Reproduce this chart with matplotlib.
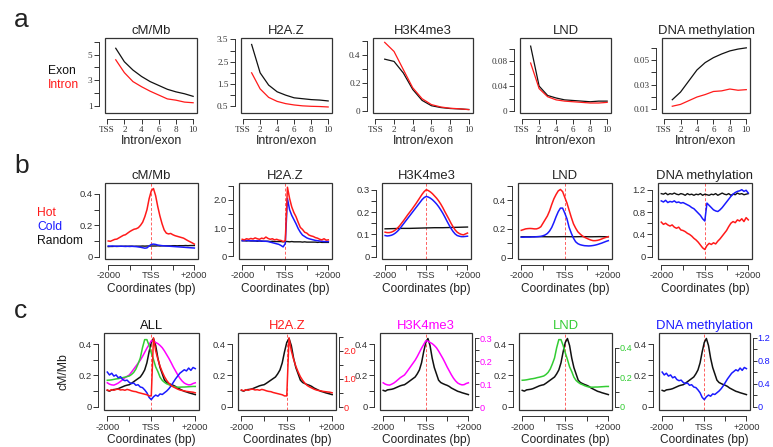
import numpy as np
import matplotlib.pyplot as plt
from matplotlib.patches import Rectangle

plt.rcParams['font.family'] = ['Liberation Sans', 'DejaVu Sans']

RED = '#ff1a1a'
BLUE = '#1a1aff'
GREEN = '#33cc33'
MAG = '#ff00ff'
BLK = '#111111'

# ---------------- a : profile along intron/exon number ----------------
exon_no = [1, 2, 3, 4, 5, 6, 7, 8, 9, 10]
exon_cm = [5.5, 4.45, 3.8, 3.3, 2.9, 2.6, 2.3, 2.1, 1.95, 1.75]
intron_cm = [4.6, 3.6, 2.9, 2.5, 2.15, 1.85, 1.55, 1.45, 1.3, 1.25]
exon_h2az = [3.27, 2.0, 1.45, 1.15, 1.0, 0.88, 0.84, 0.8, 0.78, 0.74]
intron_h2az = [2.0, 1.28, 0.9, 0.72, 0.62, 0.56, 0.52, 0.5, 0.49, 0.47]
exon_h3k4 = [0.369, 0.353, 0.27, 0.153, 0.075, 0.037, 0.024, 0.017, 0.014, 0.01]
intron_h3k4 = [0.489, 0.424, 0.294, 0.165, 0.087, 0.045, 0.028, 0.019, 0.015, 0.009]
exon_lnd = [0.104, 0.04, 0.025, 0.021, 0.018, 0.017, 0.016, 0.015, 0.016, 0.016]
intron_lnd = [0.077, 0.036, 0.023, 0.018, 0.016, 0.015, 0.014, 0.013, 0.013, 0.014]
exon_meth = [0.0178, 0.024, 0.033, 0.042, 0.048, 0.052, 0.055, 0.0575, 0.059, 0.060]
intron_meth = [0.0125, 0.014, 0.017, 0.020, 0.022, 0.0245, 0.025, 0.0265, 0.0255, 0.026]

# ---------------- b : hot / cold / random around TSS (-2000..+2000 bp) ----------------
b_cm_hot = [0.100, 0.098, 0.104, 0.110, 0.112, 0.120, 0.128, 0.136, 0.140, 0.150, 0.160,
            0.168, 0.175, 0.178, 0.185, 0.200, 0.220, 0.255, 0.300, 0.370, 0.420,
            0.435, 0.390, 0.320, 0.260, 0.210, 0.170, 0.150, 0.145, 0.148, 0.140,
            0.134, 0.130, 0.126, 0.122, 0.118, 0.110, 0.102, 0.095, 0.088, 0.080]
b_cm_cold = [0.068, 0.067, 0.068, 0.066, 0.067, 0.066, 0.067, 0.066, 0.065, 0.066, 0.065,
             0.066, 0.065, 0.064, 0.062, 0.060, 0.057, 0.054, 0.056, 0.068, 0.078,
             0.080, 0.078, 0.074, 0.072, 0.070, 0.069, 0.068, 0.067, 0.066, 0.065,
             0.064, 0.063, 0.062, 0.061, 0.060, 0.059, 0.058, 0.057, 0.056, 0.055]
b_cm_rand = [0.064, 0.065, 0.065, 0.066, 0.065, 0.066, 0.066, 0.066, 0.067, 0.066, 0.067,
             0.067, 0.066, 0.067, 0.067, 0.067, 0.068, 0.067, 0.068, 0.068, 0.068,
             0.068, 0.068, 0.069, 0.068, 0.069, 0.069, 0.069, 0.069, 0.069, 0.070,
             0.070, 0.069, 0.070, 0.070, 0.070, 0.071, 0.070, 0.071, 0.071, 0.071]

b_h2az_hot = [0.60, 0.58, 0.62, 0.60, 0.63, 0.61, 0.65, 0.62, 0.60, 0.64, 0.62,
              0.68, 0.63, 0.60, 0.62, 0.58, 0.60, 0.57, 0.56, 0.52, 0.55,
              2.45, 2.05, 1.75, 1.55, 1.40, 1.20, 1.02, 0.95, 0.85, 0.82,
              0.75, 0.72, 0.70, 0.66, 0.64, 0.60, 0.58, 0.62, 0.57, 0.58]
b_h2az_cold = [0.55, 0.55, 0.56, 0.55, 0.55, 0.55, 0.54, 0.55, 0.54, 0.54, 0.53,
               0.53, 0.52, 0.50, 0.48, 0.46, 0.44, 0.42, 0.38, 0.33, 0.45,
               2.05, 1.65, 1.45, 1.30, 1.15, 0.98, 0.85, 0.75, 0.70, 0.65,
               0.62, 0.60, 0.58, 0.56, 0.55, 0.54, 0.53, 0.52, 0.52, 0.52]
b_h2az_rand = [0.55, 0.55, 0.54, 0.55, 0.54, 0.54, 0.54, 0.53, 0.54, 0.53, 0.53,
               0.53, 0.53, 0.52, 0.53, 0.52, 0.52, 0.52, 0.52, 0.51, 0.52,
               0.52, 0.51, 0.52, 0.51, 0.51, 0.51, 0.51, 0.50, 0.51, 0.50,
               0.50, 0.50, 0.50, 0.50, 0.49, 0.50, 0.49, 0.49, 0.49, 0.49]

b_h3k4_hot = [0.110, 0.108, 0.108, 0.110, 0.114, 0.120, 0.128, 0.138, 0.150, 0.162, 0.175,
              0.188, 0.200, 0.212, 0.225, 0.238, 0.252, 0.266, 0.280, 0.292, 0.300,
              0.296, 0.290, 0.282, 0.272, 0.262, 0.250, 0.236, 0.220, 0.202, 0.185,
              0.168, 0.150, 0.134, 0.120, 0.110, 0.104, 0.100, 0.098, 0.102, 0.106]
b_h3k4_cold = [0.095, 0.093, 0.094, 0.096, 0.100, 0.106, 0.114, 0.124, 0.136, 0.148, 0.160,
               0.172, 0.184, 0.196, 0.208, 0.220, 0.232, 0.244, 0.256, 0.265, 0.270,
               0.267, 0.262, 0.255, 0.246, 0.236, 0.224, 0.210, 0.195, 0.178, 0.160,
               0.143, 0.127, 0.113, 0.102, 0.095, 0.092, 0.090, 0.090, 0.091, 0.092]
b_h3k4_rand = [0.125, 0.126, 0.127, 0.127, 0.128, 0.129, 0.130, 0.130, 0.131, 0.132, 0.133]

b_lnd_hot = [0.190, 0.195, 0.200, 0.202, 0.203, 0.202, 0.200, 0.200, 0.205, 0.215, 0.240,
             0.265, 0.290, 0.325, 0.370, 0.410, 0.440, 0.465, 0.475, 0.460, 0.420,
             0.380, 0.330, 0.280, 0.235, 0.205, 0.180, 0.165, 0.152, 0.142, 0.135,
             0.128, 0.122, 0.118, 0.118, 0.120, 0.124, 0.130, 0.136, 0.141, 0.146]
b_lnd_cold = [0.142, 0.142, 0.143, 0.143, 0.143, 0.144, 0.144, 0.145, 0.146, 0.148, 0.152,
              0.158, 0.168, 0.185, 0.210, 0.245, 0.285, 0.320, 0.345, 0.345, 0.310,
              0.270, 0.210, 0.170, 0.135, 0.110, 0.097, 0.090, 0.086, 0.083, 0.082,
              0.081, 0.082, 0.084, 0.087, 0.091, 0.096, 0.101, 0.107, 0.113, 0.118]
b_lnd_rand = [0.145, 0.145, 0.146, 0.145, 0.145, 0.146, 0.145, 0.146, 0.145, 0.146, 0.145]

b_meth_hot = [0.62, 0.58, 0.60, 0.57, 0.55, 0.57, 0.53, 0.51, 0.53, 0.48, 0.47,
              0.45, 0.42, 0.40, 0.37, 0.33, 0.30, 0.26, 0.21, 0.16, 0.13,
              0.20, 0.24, 0.22, 0.25, 0.23, 0.28, 0.32, 0.37, 0.42, 0.47,
              0.54, 0.60, 0.63, 0.61, 0.66, 0.64, 0.68, 0.63, 0.70, 0.66]
b_meth_cold = [1.00, 0.98, 1.01, 0.97, 0.99, 0.98, 1.00, 0.97, 0.98, 0.96, 0.97,
               0.95, 0.93, 0.91, 0.88, 0.86, 0.82, 0.78, 0.74, 0.68, 0.64,
               0.96, 0.92, 0.88, 0.84, 0.82, 0.81, 0.84, 0.88, 0.93, 0.98,
               1.03, 1.08, 1.12, 1.15, 1.17, 1.18, 1.20, 1.17, 1.19, 1.14]
b_meth_rand = [1.13, 1.12, 1.14, 1.11, 1.13, 1.12, 1.14, 1.12, 1.11, 1.13, 1.12,
               1.10, 1.13, 1.11, 1.12, 1.10, 1.12, 1.11, 1.13, 1.10, 1.12,
               1.11, 1.10, 1.12, 1.11, 1.13, 1.10, 1.12, 1.14, 1.12, 1.11,
               1.13, 1.10, 1.12, 1.11, 1.14, 1.12, 1.13, 1.11, 1.12, 1.13]

# ---------------- c : all genes, cM/Mb vs each mark ----------------
c_cm = [0.105, 0.100, 0.108, 0.110, 0.112, 0.116, 0.122, 0.128, 0.134, 0.138, 0.141,
        0.150, 0.160, 0.170, 0.180, 0.190, 0.210, 0.235, 0.280, 0.350, 0.410,
        0.435, 0.390, 0.310, 0.250, 0.210, 0.170, 0.155, 0.148, 0.142, 0.137,
        0.130, 0.120, 0.113, 0.106, 0.099, 0.095, 0.090, 0.086, 0.082, 0.078]
c_h2az = [0.61, 0.58, 0.62, 0.60, 0.63, 0.64, 0.61, 0.62, 0.60, 0.63, 0.61,
          0.58, 0.56, 0.55, 0.52, 0.50, 0.48, 0.46, 0.44, 0.40, 0.40,
          2.46, 2.00, 1.70, 1.45, 1.25, 1.08, 0.95, 0.85, 0.77, 0.72,
          0.68, 0.64, 0.61, 0.59, 0.58, 0.56, 0.55, 0.54, 0.53, 0.51]
c_h3k4 = [0.106, 0.100, 0.097, 0.096, 0.100, 0.105, 0.112, 0.120, 0.128, 0.134, 0.140,
          0.152, 0.165, 0.178, 0.191, 0.204, 0.220, 0.238, 0.256, 0.272, 0.288,
          0.287, 0.281, 0.276, 0.268, 0.258, 0.244, 0.228, 0.212, 0.194, 0.175,
          0.158, 0.141, 0.126, 0.114, 0.105, 0.100, 0.097, 0.098, 0.103, 0.106]
c_lnd = [0.179, 0.180, 0.182, 0.185, 0.188, 0.190, 0.193, 0.197, 0.200, 0.204, 0.208,
         0.218, 0.232, 0.255, 0.290, 0.330, 0.400, 0.455, 0.455, 0.415, 0.365,
         0.320, 0.270, 0.238, 0.200, 0.178, 0.165, 0.155, 0.149, 0.142, 0.137,
         0.133, 0.132, 0.132, 0.133, 0.133, 0.134, 0.135, 0.136, 0.137, 0.137]
c_meth = [0.60, 0.55, 0.58, 0.53, 0.55, 0.50, 0.52, 0.47, 0.45, 0.46, 0.42,
          0.40, 0.41, 0.37, 0.38, 0.34, 0.33, 0.29, 0.24, 0.16, 0.12,
          0.17, 0.20, 0.18, 0.22, 0.21, 0.24, 0.27, 0.31, 0.36, 0.42,
          0.48, 0.53, 0.58, 0.61, 0.64, 0.62, 0.67, 0.63, 0.68, 0.66]

W, H = 773, 447
fig = plt.figure(figsize=(W / 100, H / 100), dpi=100)


def panel(x0, x1, y0, y1):
    return fig.add_axes([x0 / W, 1 - y1 / H, (x1 - x0) / W, (y1 - y0) / H])


def frame(ax, xt, xtl, yt, ytl, font, size):
    ax.set_xticks(xt, xtl)
    ax.set_yticks(yt, ytl)
    ax.tick_params(direction='out', length=3.5, width=0.7, color='#333', pad=1.5,
                   labelsize=size, labelcolor='#333', labelfontfamily=font)
    for s in ['left', 'bottom']:
        ax.spines[s].set_position(('outward', 4))
        ax.spines[s].set_linewidth(0.7)
        ax.spines[s].set_color('#333')
    ax.spines['left'].set_bounds(yt[0], yt[-1])
    ax.spines['bottom'].set_bounds(xt[0], xt[-1])
    ax.spines['top'].set_visible(False)
    ax.spines['right'].set_visible(False)
    ax.add_patch(Rectangle((0, 0), 1, 1, transform=ax.transAxes, fill=False,
                           lw=0.9, ec='#333', clip_on=False))


def xs(v):
    return np.linspace(-2000, 2000, len(v))


# ---- row a ----
cols_a = [(105, 197), (241, 332), (373, 473), (520, 611), (662, 750)]
a_titles = ['cM/Mb', 'H2A.Z', 'H3K4me3', 'LND', 'DNA methylation']
a_data = [(exon_cm, intron_cm), (exon_h2az, intron_h2az), (exon_h3k4, intron_h3k4),
          (exon_lnd, intron_lnd), (exon_meth, intron_meth)]
a_ylim = [(0.45, 6.3), (0.2, 3.56), (-0.015, 0.52), (-0.003, 0.117), (0.007, 0.068)]
a_yt = [[1, 2, 3, 4, 5, 6], [0.5, 1.0, 1.5, 2.0, 2.5, 3.0, 3.5],
        [0, 0.1, 0.2, 0.3, 0.4, 0.5], [0, 0.02, 0.04, 0.06, 0.08, 0.10],
        [0.01, 0.02, 0.03, 0.04, 0.05, 0.06]]
a_ytl = [['1', '', '3', '', '5', ''], ['0.5', '', '1.5', '', '2.5', '', '3.5'],
         ['0', '', '0.2', '', '0.4', ''], ['0', '', '0.04', '', '0.08', ''],
         ['0.01', '', '0.03', '', '0.05', '']]
for i, (x0, x1) in enumerate(cols_a):
    ax = panel(x0, x1, 38, 113)
    ex, intr = a_data[i]
    ax.plot(exon_no, ex, color=BLK, lw=0.9)
    ax.plot(exon_no, intr, color=RED, lw=0.9)
    ax.set_xlim(-0.25, 10.45)
    ax.set_ylim(a_ylim[i])
    frame(ax, [0, 2, 4, 6, 8, 10], ['TSS', '2', '4', '6', '8', '10'],
          a_yt[i], a_ytl[i], 'Liberation Serif', 6.6)
    ax.set_title(a_titles[i], fontsize=9.4, color='#222', pad=3)
    ax.set_xlabel('Intron/exon', fontsize=8.8, color='#222', labelpad=1)

fig.text(14 / W, 1 - 27 / H, 'a', fontsize=19, color='#222')
fig.text(48 / W, 1 - 74 / H, 'Exon', fontsize=8.7, color=BLK)
fig.text(48 / W, 1 - 88 / H, 'Intron', fontsize=8.7, color=RED)

# ---- row b ----
cols_b = [(105, 198), (239, 332), (382, 471), (518, 612), (658, 752)]
b_data = [(b_cm_hot, b_cm_cold, b_cm_rand), (b_h2az_hot, b_h2az_cold, b_h2az_rand),
          (b_h3k4_hot, b_h3k4_cold, b_h3k4_rand), (b_lnd_hot, b_lnd_cold, b_lnd_rand),
          (b_meth_hot, b_meth_cold, b_meth_rand)]
b_ylim = [(-0.015, 0.47), (-0.1, 2.6), (-0.01, 0.33), (-0.01, 0.52), (-0.04, 1.32)]
b_yt = [[0, 0.1, 0.2, 0.3, 0.4], [0, 0.5, 1.0, 1.5, 2.0, 2.5],
        [0, 0.05, 0.1, 0.15, 0.2, 0.25, 0.3], [0, 0.1, 0.2, 0.3, 0.4, 0.5],
        [0, 0.2, 0.4, 0.6, 0.8, 1.0, 1.2]]
b_ytl = [['0', '', '0.2', '', '0.4'], ['0', '', '1.0', '', '2.0', ''],
         ['0', '', '0.1', '', '0.2', '', '0.3'], ['0', '', '0.2', '', '0.4', ''],
         ['0', '', '0.4', '', '0.8', '', '1.2']]
coord_t = [-2000, -1000, 0, 1000, 2000]
coord_tl = ['-2000', '', 'TSS', '', '+2000']
for i, (x0, x1) in enumerate(cols_b):
    ax = panel(x0, x1, 183, 259)
    hot, cold, rand = b_data[i]
    ax.axvline(0, color='#ff6060', lw=0.7, ls=(0, (3, 2)), zorder=0)
    ax.plot(xs(rand), rand, color=BLK, lw=1.0)
    ax.plot(xs(cold), cold, color=BLUE, lw=1.1)
    ax.plot(xs(hot), hot, color=RED, lw=1.1)
    ax.set_xlim(-2150, 2170)
    ax.set_ylim(b_ylim[i])
    frame(ax, coord_t, coord_tl, b_yt[i], b_ytl[i], 'Liberation Sans', 6.8)
    ax.set_title(a_titles[i], fontsize=9.4, color='#222', pad=3)
    ax.set_xlabel('Coordinates (bp)', fontsize=8.6, color='#222', labelpad=2)

fig.text(14 / W, 1 - 173 / H, 'b', fontsize=19, color='#222')
fig.text(37 / W, 1 - 216 / H, 'Hot', fontsize=8.7, color=RED)
fig.text(37 / W, 1 - 230 / H, 'Cold', fontsize=8.7, color=BLUE)
fig.text(37 / W, 1 - 244 / H, 'Random', fontsize=8.7, color=BLK)

# ---- row c ----
cols_c = [(104, 199), (238, 336), (380, 472), (519, 612), (659, 750)]
c_titles = ['ALL', 'H2A.Z', 'H3K4me3', 'LND', 'DNA methylation']
c_colors = [BLK, RED, MAG, GREEN, BLUE]
c_marks = [c_h3k4, c_lnd, c_meth, c_h2az]
c_mark_colors = [MAG, GREEN, BLUE, RED]
c_mark_ylim = [(-0.012, 0.322), (-0.023, 0.5), (-0.06, 1.28), (-0.1, 2.63)]
c_rt = [[0, 0.05, 0.1, 0.15, 0.2, 0.25, 0.3], [0, 0.1, 0.2, 0.3, 0.4],
        [0, 0.2, 0.4, 0.6, 0.8, 1.0, 1.2], [0, 0.5, 1.0, 1.5, 2.0, 2.5]]
c_rtl = [['0', '', '0.1', '', '0.2', '', '0.3'], ['0', '', '0.2', '', '0.4'],
         ['0', '', '0.4', '', '0.8', '', '1.2'], ['0', '', '1.0', '', '2.0', '']]
# panel index -> mark index
c_panel_mark = {1: 3, 2: 0, 3: 1, 4: 2}

for i, (x0, x1) in enumerate(cols_c):
    ax = panel(x0, x1, 333, 410)
    ax.axvline(0, color='#ff6060', lw=0.7, ls=(0, (3, 2)), zorder=0)
    ax.plot(xs(c_cm), c_cm, color=BLK, lw=1.1)
    ax.set_xlim(-2150, 2170)
    ax.set_ylim(-0.02, 0.47)
    frame(ax, coord_t, coord_tl, [0, 0.1, 0.2, 0.3, 0.4], ['0', '', '0.2', '', '0.4'],
          'Liberation Sans', 6.8)
    ax.set_title(c_titles[i], fontsize=9.4, color=c_colors[i], pad=3)
    ax.set_xlabel('Coordinates (bp)', fontsize=8.6, color='#222', labelpad=2)
    if i == 0:
        ax.set_ylabel('cM/Mb', fontsize=8.8, color='#222', labelpad=6)
        for k in range(4):
            tw = ax.twinx()
            tw.plot(xs(c_marks[k]), c_marks[k], color=c_mark_colors[k], lw=1.1)
            tw.set_ylim(c_mark_ylim[k])
            tw.set_xlim(-2150, 2170)
            tw.axis('off')
    else:
        k = c_panel_mark[i]
        tw = ax.twinx()
        tw.plot(xs(c_marks[k]), c_marks[k], color=c_mark_colors[k], lw=1.1)
        tw.set_xlim(-2150, 2170)
        tw.set_ylim(c_mark_ylim[k])
        tw.set_yticks(c_rt[k], c_rtl[k])
        tw.tick_params(direction='out', length=3, width=0.7, color='#333', pad=0.5,
                       labelsize=6.6, labelcolor=c_mark_colors[k])
        for s in ['left', 'top', 'bottom']:
            tw.spines[s].set_visible(False)
        tw.spines['right'].set_position(('outward', 2))
        tw.spines['right'].set_bounds(c_rt[k][0], c_rt[k][-1])
        tw.spines['right'].set_linewidth(0.7)
        tw.spines['right'].set_color('#333')

fig.text(14 / W, 1 - 318 / H, 'c', fontsize=19, color='#222')

fig.savefig('out.png', dpi=100)
